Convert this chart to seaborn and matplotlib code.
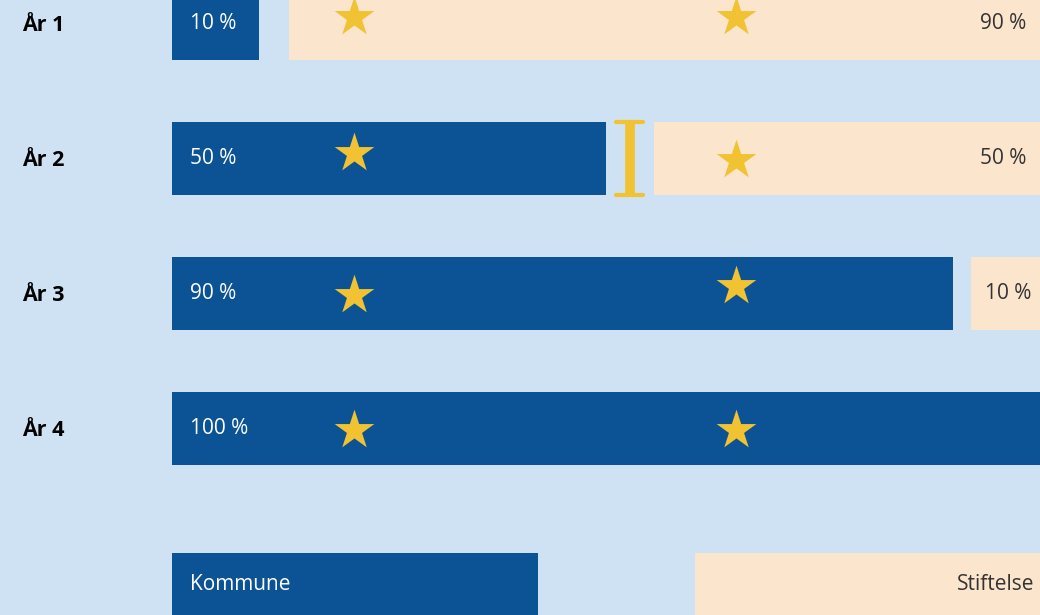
import numpy as np
import pandas as pd
import matplotlib
matplotlib.use("Agg")
import matplotlib.pyplot as plt
import seaborn as sns

# ---- data ----
years = ["År 1", "År 2", "År 3", "År 4"]
kommune = [10, 50, 90, 100]
stiftelse = [90, 50, 10, 0]
legend_labels = ["Kommune", "Stiftelse"]

BG = "#cfe2f3"
BLUE = "#0b5394"
PEACH = "#fce5cd"
GOLD = "#f1c232"
DARK = "#333333"

sns.set_theme(style="white")
plt.rcParams['font.family'] = ['Open Sans', 'DejaVu Sans']

W, H = 1040, 615
fig = plt.figure(figsize=(10.4, 6.15), dpi=100, facecolor=BG)
ax = fig.add_axes([0, 0, 1, 1])
ax.set_facecolor(BG)

PX = 8.68      # pixels per percent unit
X0 = 172       # pixel where 0 % sits
ROW = 135      # pixels per row
ytop = -23.5 / ROW
BH = 0.54      # bar height (row units)

def px_x(p):
    return (p - X0) / PX

df = pd.DataFrame({"year": years, "kommune": kommune, "stiftelse": stiftelse})
sns.barplot(data=df, x="kommune", y="year", orient="h", color=BLUE,
            width=BH, saturation=1, linewidth=0, errorbar=None, ax=ax)

gaps = [3.5, 5.5, 2.0, 0.0]
star_x = [px_x(354), px_x(736)]
star_dy = [[-6.5, -6.5], [-5.5, 1.5], [1.5, -7.5], [1.5, 1.5]]

FS = 15
for i in range(len(years)):
    # peach bar
    if stiftelse[i] > 0:
        left = kommune[i] + gaps[i]
        ax.barh(i, stiftelse[i] + 10, left=left, height=BH, color=PEACH,
                linewidth=0, zorder=1)
        if stiftelse[i] < 20:
            ax.text(left + 1.7, i, f"{stiftelse[i]} %", color=DARK,
                    fontsize=FS, ha="left", va="center", zorder=5)
        else:
            ax.text(px_x(1026), i, f"{stiftelse[i]} %", color=DARK,
                    fontsize=FS, ha="right", va="center", zorder=5)
    # kommune label
    ax.text(px_x(190), i, f"{kommune[i]} %", color="white", fontsize=FS,
            ha="left", va="center", zorder=5)
    # year label
    ax.text(px_x(22), i + 2 / ROW, years[i], color="black", fontsize=FS + 0.5,
            fontweight="bold", ha="left", va="center", zorder=5)
    # stars
    for sx, dy in zip(star_x, star_dy[i]):
        ax.scatter([sx], [i + dy / ROW], marker="*", s=900, color=GOLD,
                   linewidths=0, zorder=4)

# I-beam between bars in year 2
i2 = 1
xb = kommune[i2] + gaps[i2] / 2
ax.plot([xb, xb], [i2 - 0.255, i2 + 0.255], color=GOLD, lw=7,
        solid_capstyle="butt", zorder=4)
for yy in (i2 - 0.27, i2 + 0.27):
    ax.plot([xb - 1.55, xb + 1.55], [yy, yy], color=GOLD, lw=3,
            solid_capstyle="round", zorder=4)

# legend boxes
ly = 589.5 / ROW + ytop
ax.barh(ly, px_x(538) - px_x(172), left=0, height=BH, color=BLUE, linewidth=0)
ax.barh(ly, 80, left=px_x(695), height=BH, color=PEACH, linewidth=0)
ax.text(px_x(190), ly - 5 / ROW, legend_labels[0], color="white", fontsize=FS,
        ha="left", va="center")
ax.text(px_x(1034), ly - 5 / ROW, legend_labels[1], color=DARK, fontsize=FS,
        ha="right", va="center")

ax.set_xlim(px_x(0), px_x(W))
ax.set_ylim(ytop + H / ROW, ytop)
ax.axis("off")

fig.savefig("out.png", dpi=100, facecolor=BG)
